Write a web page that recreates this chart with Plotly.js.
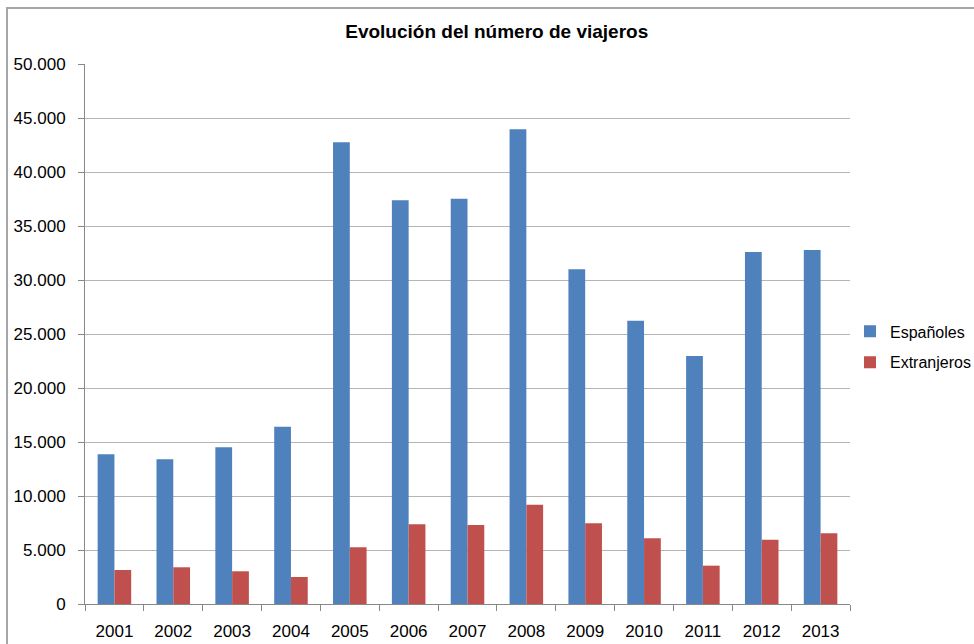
<!DOCTYPE html>
<html>
<head>
<meta charset="utf-8">
<script src="https://cdn.plot.ly/plotly-3.0.1.min.js"></script>
<style>
  html, body { margin: 0; padding: 0; background: #fff; overflow: hidden; }
  #chart { width: 974px; height: 644px; position: absolute; left: 0; top: 0; }
  #frame { position: absolute; left: 6px; top: 7px; width: 1000px; height: 700px;
           border-left: 2px solid #a6a6a6; border-top: 2px solid #a6a6a6; pointer-events: none; }
</style>
</head>
<body>
<div id="chart"></div>
<div id="frame"></div>
<script>
const years = ["2001","2002","2003","2004","2005","2006","2007","2008","2009","2010","2011","2012","2013"];
const espanoles = [13860, 13400, 14510, 16420, 42750, 37380, 37530, 43950, 30990, 26230, 22960, 32590, 32780];
const extranjeros = [3150, 3400, 3030, 2500, 5250, 7380, 7310, 9190, 7470, 6080, 3550, 5950, 6550];
const seriesNames = ["Españoles", "Extranjeros"];
const chartTitle = "Evolución del número de viajeros";

const font = "Liberation Sans, Arial, sans-serif";

const traces = [
  { type: "bar", name: seriesNames[0], x: years, y: espanoles, legendgroup: "a",
    marker: { color: "#4F81BD", line: { width: 0 } } },
  { type: "bar", name: seriesNames[1], x: years, y: extranjeros, legendgroup: "b",
    marker: { color: "#C0504D", line: { width: 0 } } }
];

const layout = {
  width: 974, height: 644,
  paper_bgcolor: "rgba(0,0,0,0)", plot_bgcolor: "#fff",
  separators: ",.",
  margin: { l: 85, r: 124, t: 64, b: 40, autoexpand: false },
  title: { text: chartTitle, font: { family: font, size: 19, color: "#000", weight: "bold" },
           x: 0.51, xanchor: "center", y: 0.951, yanchor: "middle" },
  barmode: "group", bargap: 0.43, bargroupgap: 0,
  showlegend: true,
  legend: { x: 1.0, xanchor: "left", y: 0.476, yanchor: "middle",
            font: { family: font, size: 16, color: "#000" },
            traceorder: "grouped", tracegroupgap: 7, bgcolor: "rgba(0,0,0,0)" },
  xaxis: { type: "category", tickson: "boundaries", ticks: "outside", ticklen: 6,
           tickcolor: "#888", showline: true, linecolor: "#888", linewidth: 1,
           ticklabelstandoff: 12,
           showgrid: false, tickfont: { family: font, size: 17, color: "#000" } },
  yaxis: { range: [0, 50000], dtick: 5000, tickformat: ",d", ticks: "outside", ticklen: 6,
           tickcolor: "#888", showline: true, linecolor: "#888", linewidth: 1,
           ticklabelstandoff: 9,
           showgrid: true, gridcolor: "#b5b5b5", gridwidth: 1, zeroline: false,
           tickfont: { family: font, size: 17, color: "#000" } }
};

Plotly.newPlot("chart", traces, layout, { displayModeBar: false, staticPlot: true });
</script>
</body>
</html>
